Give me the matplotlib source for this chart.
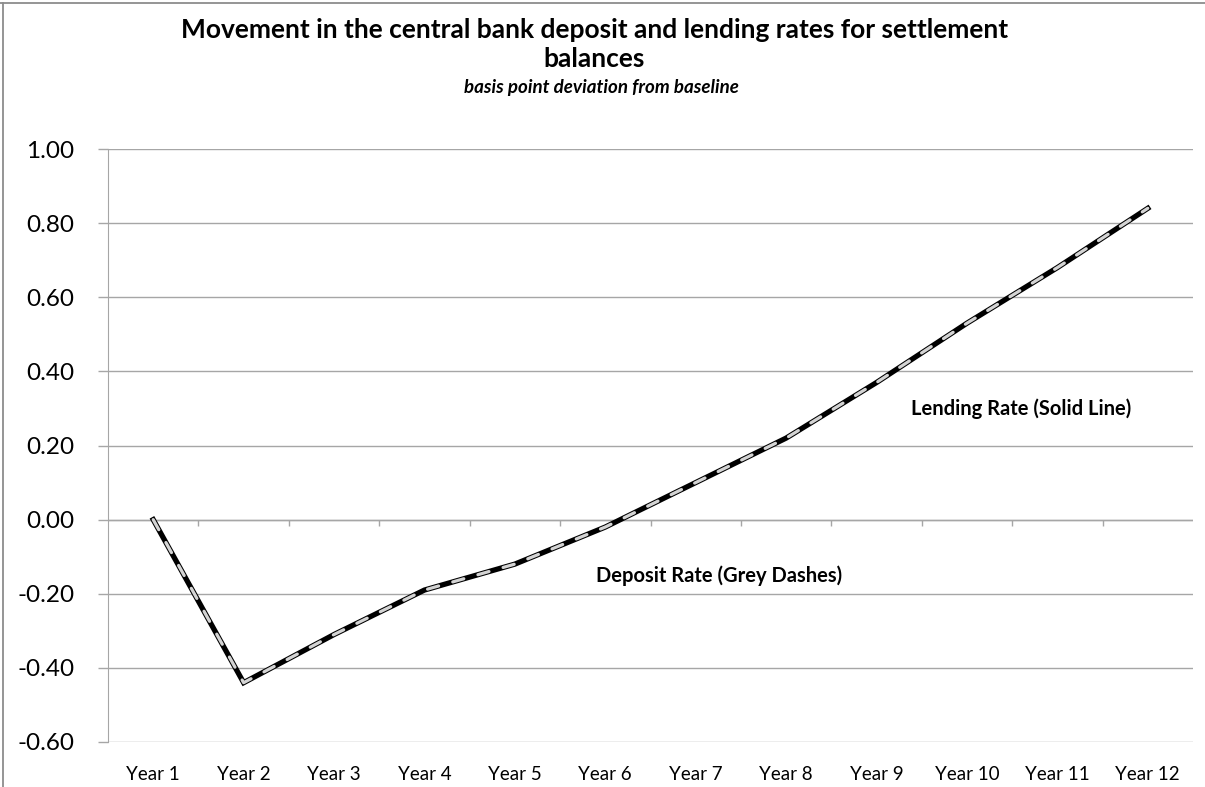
import matplotlib.pyplot as plt
import matplotlib.ticker as tck
from matplotlib.lines import Line2D

years = ['Year 1', 'Year 2', 'Year 3', 'Year 4', 'Year 5', 'Year 6',
         'Year 7', 'Year 8', 'Year 9', 'Year 10', 'Year 11', 'Year 12']
lending_rate = [0.00, -0.44, -0.31, -0.19, -0.12, -0.02, 0.10, 0.22, 0.37, 0.53, 0.68, 0.84]
deposit_rate = [0.00, -0.44, -0.31, -0.19, -0.12, -0.02, 0.10, 0.22, 0.37, 0.53, 0.68, 0.84]

plt.rcParams['font.family'] = ['Lato', 'DejaVu Sans']

fig = plt.figure(figsize=(12.05, 7.87), dpi=100)
ax = fig.add_axes([108 / 1205, 1 - 742 / 787, 1085 / 1205, (742 - 149) / 787])

# outer chart border (only top and left visible in the crop)
fig.lines.append(Line2D([0, 1], [1 - 3 / 787] * 2, transform=fig.transFigure,
                        color='#8c8c8c', linewidth=1.3))
fig.lines.append(Line2D([3 / 1205] * 2, [0, 1 - 3 / 787], transform=fig.transFigure,
                        color='#8c8c8c', linewidth=1.3))

x = list(range(len(years)))
ax.plot(x, lending_rate, color='black', linewidth=3.8, solid_joinstyle='miter', zorder=3)
ax.plot(x, deposit_rate, color='#d4d4d4', linewidth=2.3, linestyle=(0, (3.6, 4.6)),
        dash_capstyle='round', zorder=4)

ax.set_xlim(-0.5, len(years) - 0.5)
ax.set_ylim(-0.6, 1.0)
ax.yaxis.set_major_locator(tck.MultipleLocator(0.2))
ax.yaxis.set_major_formatter(tck.FormatStrFormatter('%.2f'))
ax.grid(axis='y', color='#a6a6a6', linewidth=1.0)
ax.set_axisbelow(True)

ax.set_xticks(x)
ax.set_xticklabels(years, fontsize=13.5)
ax.tick_params(axis='x', length=0, pad=17)
ax.tick_params(axis='y', labelsize=17.5, length=7, color='#a6a6a6', width=1.0, pad=17)

for s in ['top', 'right', 'bottom']:
    ax.spines[s].set_visible(False)
ax.spines['left'].set_color('#a6a6a6')

# horizontal category axis crossing at zero, with tick marks between categories
ax.axhline(0, color='#a6a6a6', linewidth=1.0, zorder=2)
ax.vlines([i + 0.5 for i in x[:-1]], -0.018, 0, color='#a6a6a6', linewidth=1.0, zorder=2)

ax.text(9.6, 0.30, 'Lending Rate (Solid Line)', fontsize=14.5, fontweight='bold',
        ha='center', va='center')
ax.text(6.26, -0.15, 'Deposit Rate (Grey Dashes)', fontsize=14.5, fontweight='bold',
        ha='center', va='center')

fig.text(0.493, 1 - 30 / 787, 'Movement in the central bank deposit and lending rates for settlement',
         fontsize=19, fontweight='bold', ha='center', va='center')
fig.text(0.493, 1 - 59 / 787, 'balances', fontsize=19, fontweight='bold', ha='center', va='center')
fig.text(0.499, 1 - 88 / 787, 'basis point deviation from baseline', fontsize=13.5,
         fontweight='bold', fontstyle='italic', ha='center', va='center')

fig.savefig('out.png', dpi=100)
